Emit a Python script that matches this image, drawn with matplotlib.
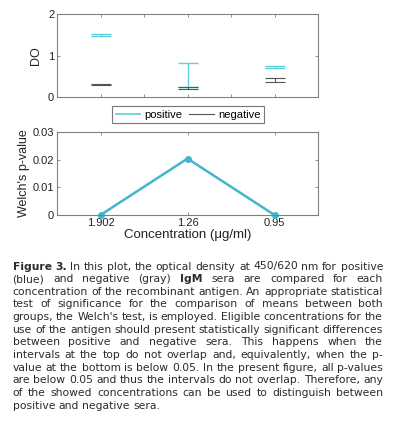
"""Figure 3: IgM optical density intervals and Welch's p-values per concentration."""

import matplotlib
matplotlib.use("Agg")
import matplotlib.pyplot as plt

W, H = 395, 421

POS_COLOR = "#5ccfe0"
NEG_COLOR = "#555555"
P_COLOR = "#43b6cc"
SPINE = "#808080"
TEXT = "#2a2a2a"

# data
conc_pos = [1, 2, 3]
conc_labels = ["1.902", "1.26", "0.95"]
pos_low = [1.47, 0.24, 0.71]
pos_high = [1.53, 0.83, 0.75]
neg_low = [0.29, 0.19, 0.36]
neg_high = [0.32, 0.23, 0.45]
p_values = [0.0, 0.0204, 0.0]

caption_lines = [
    "Figure 3. In this plot, the optical density at 450/620 nm for positive",
    "(blue) and negative (gray) IgM sera are compared for each",
    "concentration of the recombinant antigen. An appropriate statistical",
    "test of significance for the comparison of means between both",
    "groups, the Welch's test, is employed. Eligible concentrations for the",
    "use of the antigen should present statistically significant differences",
    "between positive and negative sera. This happens when the",
    "intervals at the top do not overlap and, equivalently, when the p-",
    "value at the bottom is below 0.05. In the present figure, all p-values",
    "are below 0.05 and thus the intervals do not overlap. Therefore, any",
    "of the showed concentrations can be used to distinguish between",
    "positive and negative sera.",
]
bold_words = {(0, 0), (0, 1), (1, 4)}

plt.rcParams["font.family"] = ["Liberation Sans", "DejaVu Sans"]

fig = plt.figure(figsize=(W / 100, H / 100), dpi=100)


def px_axes(x0, y0, x1, y1):
    return fig.add_axes([x0 / W, 1 - y1 / H, (x1 - x0) / W, (y1 - y0) / H])


def style(ax):
    for s in ax.spines.values():
        s.set_color(SPINE)
        s.set_linewidth(0.8)
    ax.tick_params(direction="in", length=2.5, width=0.6, color=SPINE,
                   labelsize=8, labelcolor="#222222", pad=2,
                   top=True, right=True)


# top: OD intervals
ax1 = px_axes(57, 14, 318, 97)
style(ax1)
for low, high, color, lw in [(pos_low, pos_high, POS_COLOR, 1.0),
                             (neg_low, neg_high, NEG_COLOR, 0.8)]:
    mid = [(a + b) / 2 for a, b in zip(low, high)]
    half = [(b - a) / 2 for a, b in zip(low, high)]
    ax1.errorbar(conc_pos, mid, yerr=half, fmt="none", ecolor=color,
                 elinewidth=lw, capsize=7, capthick=lw)
ax1.set_xlim(0.5, 3.5)
ax1.set_ylim(0, 2)
ax1.set_xticks([1, 1.5, 2, 2.5, 3])
ax1.set_xticklabels([])
ax1.set_yticks([0, 1, 2])
ax1.set_ylabel("DO", fontsize=9, labelpad=4, color="#222222")

leg_handles = [plt.Line2D([], [], color=POS_COLOR, lw=1.2),
               plt.Line2D([], [], color=NEG_COLOR, lw=0.8)]
leg = fig.legend(leg_handles, ["positive", "negative"], ncol=2, fontsize=8,
                 loc="center", bbox_to_anchor=(188 / W, 1 - 114.5 / H),
                 frameon=True, fancybox=False, handlelength=2.2,
                 handletextpad=0.4, columnspacing=0.6, borderpad=0.35,
                 borderaxespad=0)
leg.get_frame().set_edgecolor("#555555")
leg.get_frame().set_linewidth(0.8)

# bottom: Welch's p-values
ax2 = px_axes(57, 132, 318, 215)
style(ax2)
ax2.plot(conc_pos, p_values, color=P_COLOR, lw=1.8, marker="o",
         markersize=4, clip_on=False)
ax2.set_xlim(0.5, 3.5)
ax2.set_ylim(0, 0.03)
ax2.set_xticks(conc_pos)
ax2.set_xticklabels(conc_labels)
ax2.set_yticks([0, 0.01, 0.02, 0.03])
ax2.set_yticklabels(["0", "0.01", "0.02", "0.03"])
ax2.set_ylabel("Welch's p-value", fontsize=9, labelpad=2, color="#222222")
ax2.set_xlabel("Concentration (\u03bcg/ml)", fontsize=9.5, labelpad=1,
               color="#222222")

# caption, justified word by word
renderer = fig.canvas.get_renderer()
CAP_FONT = "DejaVu Sans"
left, right = 12.5, 383.0
first_base, line_step = 269.5, 12.65


def word_width(word, bold, size):
    t = fig.text(0, 0, word, fontsize=size, family=CAP_FONT,
                 fontweight="bold" if bold else "normal")
    w = t.get_window_extent(renderer).width
    t.remove()
    return w


def line_width(i, size):
    words = caption_lines[i].split()
    sp = word_width("a a", False, size) - 2 * word_width("a", False, size)
    ws = [word_width(w, (i, j) in bold_words, size) for j, w in enumerate(words)]
    return sum(ws) + sp * (len(words) - 1)


base = 10.0
widest = max(line_width(i, base) for i in range(len(caption_lines)))
cap_size = base * (right - left) / widest * 0.995

for i, line in enumerate(caption_lines):
    words = line.split()
    widths = [word_width(w, (i, j) in bold_words, cap_size)
              for j, w in enumerate(words)]
    if i < len(caption_lines) - 1 and len(words) > 1:
        gap = (right - left - sum(widths)) / (len(words) - 1)
    else:
        gap = word_width("a a", False, cap_size) - 2 * word_width("a", False, cap_size)
    x = left
    y = first_base + i * line_step
    for j, (w, ww) in enumerate(zip(words, widths)):
        fig.text(x / W, 1 - y / H, w, fontsize=cap_size, family=CAP_FONT,
                 fontweight="bold" if (i, j) in bold_words else "normal",
                 color=TEXT, va="baseline", ha="left")
        x += ww + gap

fig.savefig("out.png", dpi=100)
